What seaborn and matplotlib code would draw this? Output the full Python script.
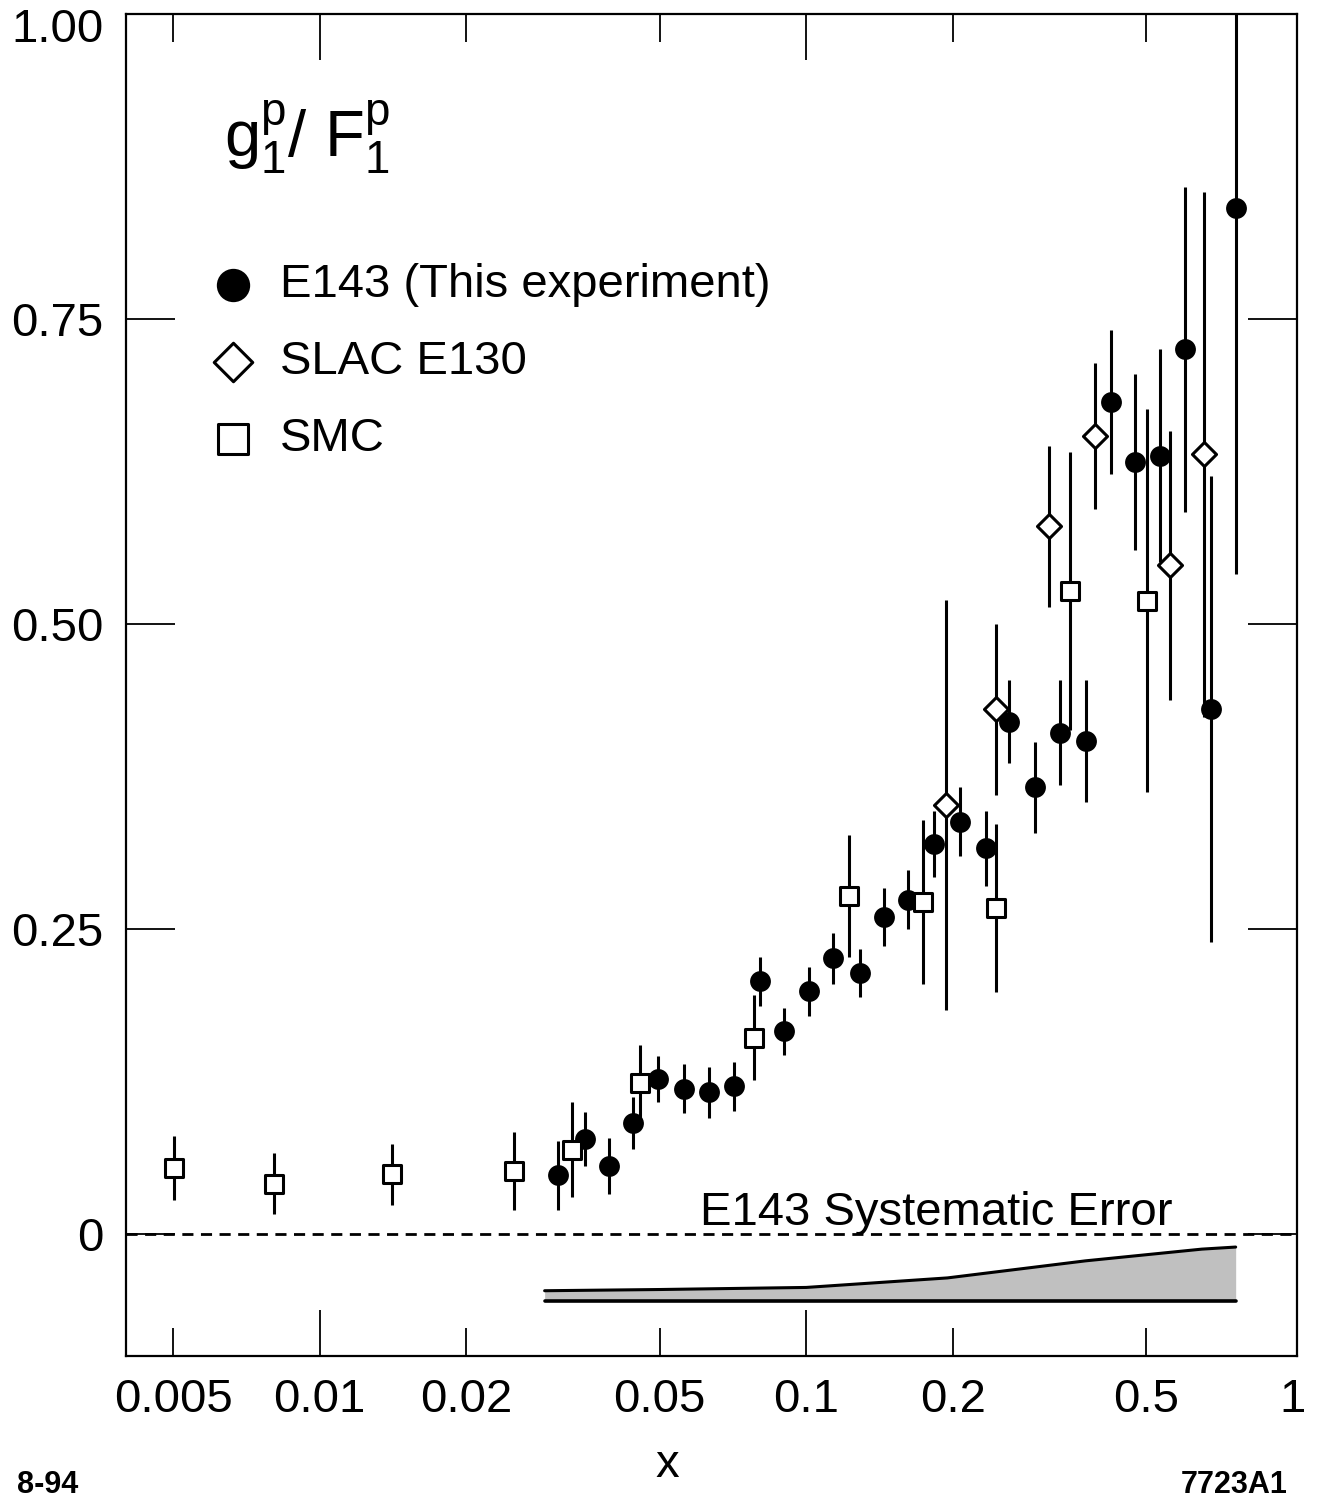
import numpy as np
import pandas as pd
import seaborn as sns
import matplotlib
matplotlib.use('Agg')
import matplotlib.pyplot as plt
from matplotlib.transforms import ScaledTranslation

# E143 (this experiment)
e143_x = [0.0309, 0.0351, 0.0393, 0.0441, 0.0496, 0.0561, 0.0631, 0.0711, 0.0804, 0.0902,
          0.1014, 0.1137, 0.129, 0.1446, 0.162, 0.1834, 0.2075, 0.2336, 0.2616, 0.2959,
          0.332, 0.375, 0.422, 0.473, 0.533, 0.600, 0.678, 0.763]
e143_y = [0.048, 0.078, 0.056, 0.091, 0.127, 0.119, 0.116, 0.121, 0.207, 0.166,
          0.199, 0.226, 0.214, 0.260, 0.274, 0.320, 0.338, 0.316, 0.420, 0.366,
          0.411, 0.404, 0.682, 0.633, 0.638, 0.725, 0.430, 0.841]
e143_err = [0.028, 0.022, 0.023, 0.021, 0.019, 0.020, 0.021, 0.020, 0.020, 0.019,
            0.020, 0.021, 0.020, 0.024, 0.024, 0.027, 0.028, 0.031, 0.034, 0.037,
            0.043, 0.050, 0.059, 0.072, 0.087, 0.133, 0.191, 0.300]

# SLAC E130
slac_x = [0.194, 0.245, 0.316, 0.393, 0.558, 0.656]
slac_y = [0.352, 0.430, 0.580, 0.654, 0.548, 0.639]
slac_err = [0.168, 0.070, 0.066, 0.060, 0.110, 0.215]

# SMC
smc_x = [0.00501, 0.00804, 0.0141, 0.0251, 0.033, 0.0456, 0.0782, 0.1225, 0.174, 0.246, 0.349, 0.501]
smc_y = [0.054, 0.041, 0.049, 0.052, 0.069, 0.124, 0.161, 0.277, 0.272, 0.267, 0.527, 0.519]
smc_err = [0.026, 0.025, 0.025, 0.032, 0.039, 0.031, 0.035, 0.050, 0.067, 0.069, 0.114, 0.157]

# E143 systematic error band (drawn below zero)
sys_x = [0.029, 0.05, 0.1, 0.195, 0.375, 0.65, 0.763]
sys_w = [0.0085, 0.0095, 0.0112, 0.019, 0.033, 0.0426, 0.0443]
sys_base = -0.055

xticks_major = [0.01, 0.1, 1]
xlabels_major = ['0.01', '0.1', '1']
xticks_minor = [0.005, 0.02, 0.05, 0.2, 0.5]
xlabels_minor = ['0.005', '0.02', '0.05', '0.2', '0.5']
yticks = [0, 0.25, 0.5, 0.75, 1.0]
ylabels = ['0', '0.25', '0.50', '0.75', '1.00']

sns.set_theme(style='ticks')
plt.rcParams['font.family'] = ['Liberation Sans', 'DejaVu Sans']
plt.rcParams['mathtext.fontset'] = 'custom'
plt.rcParams['mathtext.rm'] = 'Liberation Sans'
plt.rcParams['mathtext.it'] = 'Liberation Sans'
for k in ['text.color', 'axes.labelcolor', 'xtick.color', 'ytick.color', 'axes.edgecolor']:
    plt.rcParams[k] = 'black'

FS = 34

fig = plt.figure(figsize=(13.22, 15.01), dpi=100)
ax = fig.add_axes([0.0953, 0.0966, 0.8858, 0.8941])

df_e143 = pd.DataFrame({'x': e143_x, 'y': e143_y})
df_slac = pd.DataFrame({'x': slac_x, 'y': slac_y})
df_smc = pd.DataFrame({'x': smc_x, 'y': smc_y})

ebar = dict(fmt='none', ecolor='black', elinewidth=2.2, capsize=0, zorder=2)
ax.errorbar(e143_x, e143_y, yerr=e143_err, **ebar)
ax.errorbar(slac_x, slac_y, yerr=slac_err, **ebar)
ax.errorbar(smc_x, smc_y, yerr=smc_err, **ebar)

sns.scatterplot(data=df_e143, x='x', y='y', ax=ax, marker='o', s=225,
                color='black', edgecolor='black', linewidth=0,
                label='E143 (This experiment)', zorder=3)
sns.scatterplot(data=df_slac, x='x', y='y', ax=ax, marker='D', s=150,
                facecolor='white', edgecolor='black', linewidth=2.2,
                label='SLAC E130', zorder=3)
sns.scatterplot(data=df_smc, x='x', y='y', ax=ax, marker='s', s=185,
                facecolor='white', edgecolor='black', linewidth=2.2,
                label='SMC', zorder=3)

# zero line and systematic band
ax.axhline(0, color='black', lw=2, dashes=(4, 2.7), zorder=1)
sys_top = np.array(sys_w) + sys_base
ax.fill_between(sys_x, sys_base, sys_top, color='#c0c0c0', lw=0, zorder=1)
ax.plot(sys_x, sys_top, color='black', lw=2.2, zorder=2)
ax.plot([sys_x[0], sys_x[-1]], [sys_base, sys_base], color='black', lw=2.6, zorder=2)
ax.text(0.0605, 0.0074, 'E143 Systematic Error', fontsize=FS, va='baseline', ha='left')

ax.set_xscale('log')
ax.set_xlim(0.004, 1.02)
ax.set_ylim(-0.1, 1.0)

ax.set_xticks(xticks_major)
ax.set_xticklabels(xlabels_major)
ax.set_xticks(xticks_minor, minor=True)
ax.set_xticklabels(xlabels_minor, minor=True)
ax.set_yticks(yticks)
ax.set_yticklabels(ylabels)
ax.tick_params(axis='x', which='major', direction='in', length=33, width=1.3,
               top=True, bottom=True, labelsize=FS, pad=16)
ax.tick_params(axis='x', which='minor', direction='in', length=20, width=1.3,
               top=True, bottom=True, labelsize=FS, pad=16)
ax.tick_params(axis='y', which='both', direction='in', length=35, width=1.3,
               left=True, right=True, labelsize=FS, pad=16)
for sp in ax.spines.values():
    sp.set_linewidth(1.6)

# the tick at x=1 sits on the right frame; hide its lines, keep the label
t1 = ax.xaxis.get_major_ticks()[-1]
t1.tick1line.set_visible(False)
t1.tick2line.set_visible(False)

# nudge the top y label down so it stays inside the figure
for lab in ax.get_yticklabels():
    if lab.get_text() == '1.00':
        lab.set_transform(lab.get_transform() + ScaledTranslation(0, -0.11, fig.dpi_scale_trans))

ax.set_xlabel('')
ax.set_ylabel('')

ax.text(0.0837, 0.8927, r'$\mathrm{g}_1^\mathrm{p}$/ $\mathrm{F}_1^\mathrm{p}$', transform=ax.transAxes,
        fontsize=47, va='baseline', ha='left')

leg = ax.legend(loc='upper left', bbox_to_anchor=(0.0713, 0.8145), frameon=False,
                fontsize=FS, markerscale=1.6, handlelength=1.0, handletextpad=0.5,
                borderpad=0, borderaxespad=0, labelspacing=0.7)

fig.text(667 / 1322, 1 - 1465 / 1501, 'x', fontsize=FS, ha='center', va='center')
fig.text(17 / 1322, 1 - 1493 / 1501, '8-94', fontsize=22, fontweight='bold', ha='left', va='baseline')
fig.text(1288 / 1322, 1 - 1493 / 1501, '7723A1', fontsize=22, fontweight='bold', ha='right', va='baseline')

plt.savefig('out.png', dpi=100)
